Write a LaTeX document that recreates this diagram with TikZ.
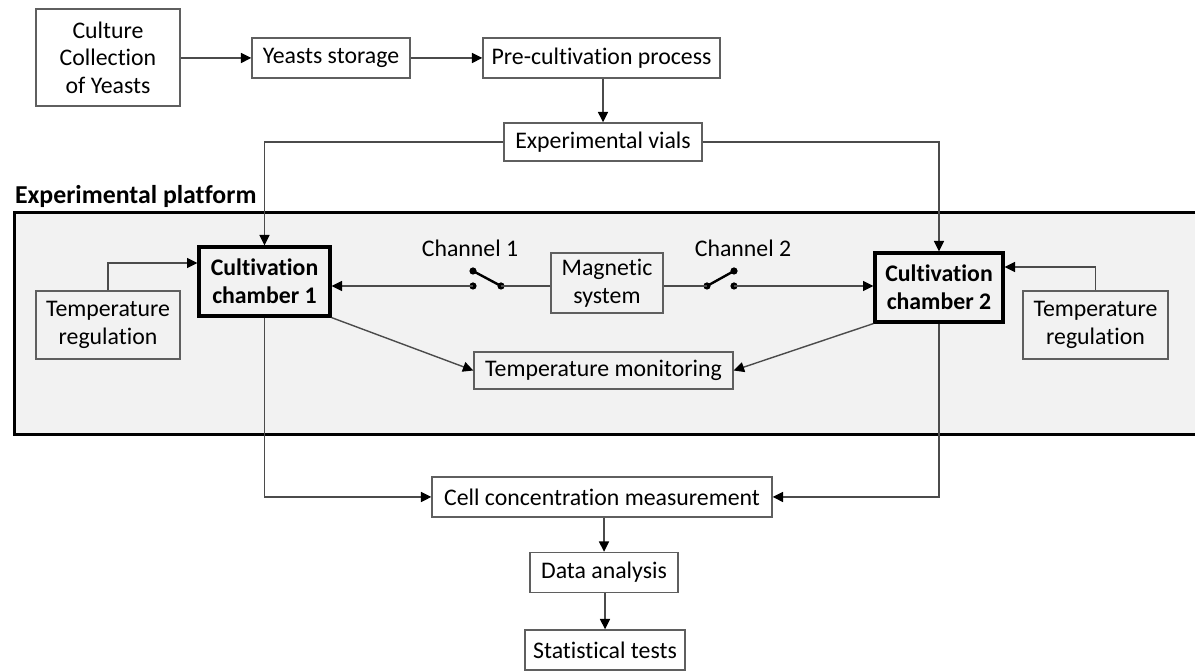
\documentclass[tikz,border=0pt]{standalone}
\usepackage{fontspec}
\setmainfont{Carlito}[Ligatures=NoCommon]
\usetikzlibrary{arrows.meta}
\usetikzlibrary{calc}
\usetikzlibrary{positioning}
\definecolor{linegray}{RGB}{75,75,75}
\definecolor{boxgray}{RGB}{95,95,95}
\definecolor{platgray}{RGB}{242,242,242}
\tikzset{
  box/.style={draw=boxgray, line width=0.7pt, align=center, inner sep=0pt,
    minimum height=20pt, font=\fontsize{11.9}{13.8}\selectfont},
  chamber/.style={box, draw=black, line width=1.6pt,
    font=\fontsize{11.9}{13.8}\selectfont\bfseries},
  arrow/.style={-{Triangle[length=5.2pt,width=5pt,color=black]}, draw=linegray, line width=0.7pt},
  wire/.style={draw=linegray, line width=0.7pt},
  contact/.style={circle, fill=black, inner sep=0pt, minimum size=3.6pt},
  lever/.style={line width=1.2pt, black}
}

\begin{document}
\begin{tikzpicture}[x=0.5pt, y=-0.5pt]
  \useasboundingbox (0,0) rectangle (1195,672);
  % platform background
  \begin{scope}
    \clip (0,0) rectangle (1195,672);
    \draw[line width=1.5pt, fill=platgray] (14,213) rectangle (1210,435);
  \end{scope}
  \node[anchor=base west, font=\fontsize{12.9}{15}\selectfont\bfseries] (platlabel) at (8,204) {Experimental platform};

  % boxes
  \node[box, minimum width=72pt, minimum height=48.5pt] (culture) at (108,57.5) {Culture\\Collection\\of Yeasts};
  \node[box, minimum width=79pt] (storage) at (331,58) {Yeasts storage};
  \node[box, minimum width=118.5pt] (precult) at (601.5,58) {Pre-cultivation process};
  \node[box, minimum width=99pt, minimum height=19pt] (vials) at (603,142) {Experimental vials};
  \node[chamber, minimum width=65.5pt, minimum height=34.5pt] (ch1) at (264.5,281.5) {Cultivation\\chamber 1};
  \node[chamber, minimum width=64pt, minimum height=34.5pt] (ch2) at (939,287.5) {Cultivation\\chamber 2};
  \node[box, minimum width=72pt, minimum height=34pt] (treg1) at (108,325) {Temperature\\regulation};
  \node[box, minimum width=72.5pt, minimum height=34pt] (treg2) at (1095.5,325) {Temperature\\regulation};
  \node[box, minimum width=56pt, minimum height=30pt] (magnet) at (607,283) {Magnetic\\system};
  \node[box, minimum width=129.5pt, minimum height=18.5pt] (tmon) at (603.5,370.5) {Temperature monitoring};
  \node[box, minimum width=170pt] (cellconc) at (602,497) {Cell concentration measurement};
  \node[box, minimum width=74pt] (analysis) at (604,572.5) {Data analysis};
  \node[box, minimum width=80pt] (stats) at (605,650) {Statistical tests};

  % channels and switches
  \node[font=\fontsize{11.9}{13.8}\selectfont] (chlab1) at (470,248) {Channel 1};
  \node[font=\fontsize{11.9}{13.8}\selectfont] (chlab2) at (743,248) {Channel 2};
  \node[contact] (s1a) at (473,286) {};
  \node[contact] (s1b) at (501,286) {};
  \node[contact] (s1c) at (473,271) {};
  \node[contact] (s2a) at (707,286) {};
  \node[contact] (s2b) at (734,286) {};
  \node[contact] (s2c) at (734,271) {};
  \draw[lever] (s1c.center) -- (s1b.center);
  \draw[lever] (s2a.center) -- (s2c.center);

  % connectors
  \draw[arrow] (culture.east |- storage.west) -- (storage.west);
  \draw[arrow] (storage) -- (precult);
  \draw[arrow] (precult.south -| vials.north) -- (vials.north);
  \draw[arrow] (vials.west) -| (ch1.north);
  \draw[arrow] (vials.east) -| (ch2.north);
  \draw[arrow] (treg1.north) |- ($(ch1.west)+(0,-18.5)$);
  \draw[arrow] (treg2.north) |- ($(ch2.east)+(0,-20.5)$);
  \draw[wire] (magnet.west |- s1b) -- (s1b.center);
  \draw[arrow] (s1a.center) -- (s1a -| ch1.east);
  \draw[wire] (magnet.east |- s2a) -- (s2a.center);
  \draw[arrow] (s2b.center) -- (s2b -| ch2.west);
  \draw[arrow] (ch1.south east) -- (tmon.west);
  \draw[arrow] (ch2.south west) -- (tmon.east);
  \draw[arrow] (ch1.south) |- (cellconc.west);
  \draw[arrow] (ch2.south) |- (cellconc.east);
  \draw[arrow] (cellconc.south -| analysis.north) -- (analysis.north);
  \draw[arrow] (analysis.south -| stats.north) -- (stats.north);
\end{tikzpicture}
\end{document}
